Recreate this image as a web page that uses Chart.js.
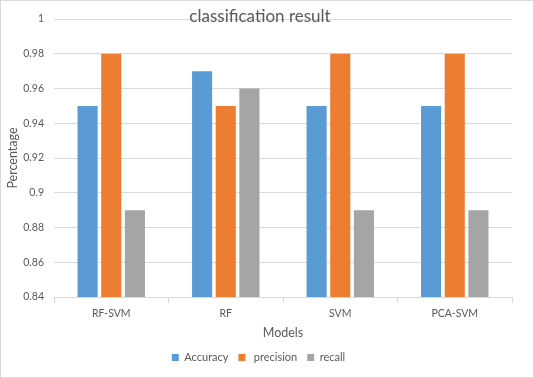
<!DOCTYPE html>
<html>
<head>
<meta charset="utf-8">
<script src="https://cdn.jsdelivr.net/npm/chart.js@4"></script>
<style>
  html, body { margin: 0; padding: 0; background: #fff; }
  #wrap { width: 532px; height: 376px; border: 1px solid #d9d9d9; }
</style>
</head>
<body>
<div id="wrap"><canvas id="myChart" width="532" height="376"></canvas></div>
<script>
var models = ['RF-SVM', 'RF', 'SVM', 'PCA-SVM'];
var accuracy = [0.95, 0.97, 0.95, 0.95];
var precision = [0.98, 0.95, 0.98, 0.98];
var recall = [0.89, 0.96, 0.89, 0.89];

var font = "Lato, 'Open Sans', sans-serif";
var textColor = '#595959';

// title sits over the plot area like in Excel, so draw it by hand
var titlePlugin = {
    id: 'overTitle',
    afterDraw: function (chart) {
        var c = chart.ctx;
        c.save();
        c.font = '17px ' + font;
        c.fillStyle = textColor;
        c.textAlign = 'center';
        c.textBaseline = 'middle';
        c.fillText('classification result', 259, 16);
        c.restore();
    }
};

var ctx = document.getElementById('myChart').getContext('2d');
var myChart = new Chart(ctx, {
    type: 'bar',
    data: {
        labels: models,
        datasets: [{
            label: 'Accuracy',
            data: accuracy,
            backgroundColor: '#5b9bd5'
        },
        {
            label: ' precision',
            data: precision,
            backgroundColor: '#ed7d31'
        },
        {
            label: 'recall',
            data: recall,
            backgroundColor: '#a5a5a5'
        }]
    },
    options: {
        responsive: false,
        animation: false,
        categoryPercentage: 0.62,
        barPercentage: 0.85,
        layout: {
            padding: { top: 18, right: 21, left: 4, bottom: 4 }
        },
        plugins: {
            legend: {
                position: 'bottom',
                labels: {
                    boxWidth: 7,
                    boxHeight: 7,
                    color: textColor,
                    font: { family: font, size: 11 },
                    padding: 10
                }
            },
            tooltip: { enabled: false }
        },
        scales: {
            x: {
                afterFit: function (s) { s.height = 45; },
                grid: {
                    drawOnChartArea: false,
                    drawTicks: true,
                    tickLength: 6,
                    color: '#d9d9d9'
                },
                border: { display: true, color: '#d9d9d9' },
                ticks: {
                    color: textColor,
                    font: { family: font, size: 10.5 },
                    padding: 4
                },
                title: {
                    display: true,
                    text: 'Models',
                    color: textColor,
                    font: { family: font, size: 12.5 },
                    padding: { top: 4, bottom: 2 }
                }
            },
            y: {
                min: 0.84,
                max: 1,
                afterFit: function (s) { s.width = 49; },
                grid: {
                    color: '#d9d9d9',
                    drawTicks: false
                },
                border: { display: false },
                ticks: {
                    stepSize: 0.02,
                    color: textColor,
                    font: { family: font, size: 10.5 },
                    padding: 10,
                    callback: function (v) { return String(parseFloat(v.toFixed(2))); }
                },
                title: {
                    display: true,
                    text: 'Percentage',
                    color: textColor,
                    font: { family: font, size: 12.5 },
                    padding: { top: 0, bottom: 4 }
                }
            }
        }
    },
    plugins: [titlePlugin]
});
</script>
</body>
</html>
